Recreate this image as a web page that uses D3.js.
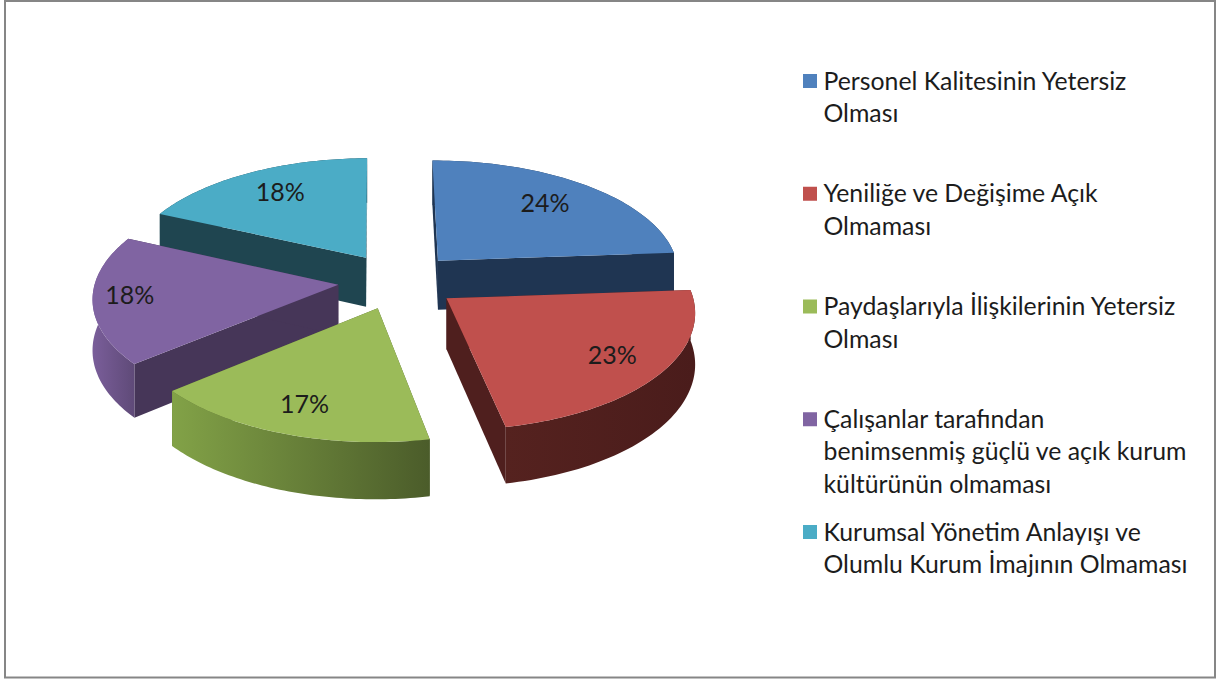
<!DOCTYPE html>
<html>
<head>
<meta charset="utf-8">
<script src="https://cdnjs.cloudflare.com/ajax/libs/d3/7.8.5/d3.min.js"></script>
<style>
    html, body { margin: 0; padding: 0; background: #fff; }
    svg { display: block; }
    text { font-family: Lato, Carlito, sans-serif; fill: #1c1c1c; }
</style>
</head>
<body>
<svg id="chart" width="1216" height="679"></svg>
<script>
var categories = [
    ['Personel Kalitesinin Yetersiz', 'Olması'],
    ['Yeniliğe ve Değişime Açık', 'Olmaması'],
    ['Paydaşlarıyla İlişkilerinin Yetersiz', 'Olması'],
    ['Çalışanlar tarafından', 'benimsenmiş güçlü ve açık kurum', 'kültürünün olmaması'],
    ['Kurumsal Yönetim Anlayışı ve', 'Olumlu Kurum İmajının Olmaması']
];
var values = [24, 23, 17, 18, 18];
var topColors = ['#4f81bd', '#c0504d', '#9bbb59', '#8064a2', '#4bacc6'];
var cutColors = ['#1f3552', '#4f1f1e', '#4d5e2c', '#463658', '#1f4550'];
var wallLight = ['#1f3552', '#55221f', '#82a247', '#7a5e9a', '#1f4550'];
var wallDark = ['#1f3552', '#4a1c1b', '#4b5c2a', '#5f4a78', '#1f4550'];
var labelRadius = [0.71, 0.79, 0.80, 0.85, 0.72];
var drawOrder = [4, 0, 3, 1, 2];

var svg = d3.select('#chart');
var defs = svg.append('defs');

// frame
svg.append('rect')
    .attr('x', 5).attr('y', 1)
    .attr('width', 1210).attr('height', 676.5)
    .attr('fill', '#fff')
    .attr('stroke', '#868686')
    .attr('stroke-width', 2);

// perspective projection of the pie plane
var cx = 398, cy = 281;
var radius = 243, explode = 60;
var tilt = 0.47, persp = 0.00042;
var depth = 50;
var rotation = -0.5 * Math.PI / 180;

function project(wx, wz, h) {
    var s = 1 / (1 + persp * wz);
    return [cx + wx * s, cy - wz * tilt * s + h * s];
}

var arcs = d3.pie().sort(null)
    .startAngle(rotation)
    .endAngle(rotation + 2 * Math.PI)
    .value(function (d) { return d; })(values);
var line = d3.line();

arcs.forEach(function (d) {
    var mid = (d.startAngle + d.endAngle) / 2;
    d.ax = explode * Math.sin(mid);
    d.az = explode * Math.cos(mid);
    d.rim = d3.range(0, 61).map(function (i) {
        var a = d.startAngle + (d.endAngle - d.startAngle) * i / 60;
        return [d.ax + radius * Math.sin(a), d.az + radius * Math.cos(a)];
    });
});

function at(h) {
    return function (p) { return project(p[0], p[1], h); };
}

drawOrder.forEach(function (i) {
    var d = arcs[i];
    var apex = [d.ax, d.az];
    var first = d.rim[0], last = d.rim[d.rim.length - 1];
    var g = svg.append('g');

    var xs = d.rim.map(at(depth)).map(function (p) { return p[0]; });
    var grad = defs.append('linearGradient')
        .attr('id', 'wall' + i)
        .attr('gradientUnits', 'userSpaceOnUse')
        .attr('x1', d3.min(xs)).attr('x2', d3.max(xs))
        .attr('y1', 0).attr('y2', 0);
    grad.append('stop').attr('offset', 0).attr('stop-color', wallLight[i]);
    grad.append('stop').attr('offset', 1).attr('stop-color', wallDark[i]);

    [first, last].forEach(function (p) {
        var quad = [apex, p].map(at(0)).concat([p, apex].map(at(depth)));
        g.append('path')
            .attr('d', line(quad) + 'Z')
            .attr('fill', cutColors[i]);
    });

    var wall = d.rim.map(at(0)).concat(d.rim.slice().reverse().map(at(depth)));
    g.append('path')
        .attr('d', line(wall) + 'Z')
        .attr('fill', 'url(#wall' + i + ')');

    var top = [apex].concat(d.rim).map(at(0));
    g.append('path')
        .attr('d', line(top) + 'Z')
        .attr('fill', topColors[i]);
});

// data labels
svg.append('g').selectAll('text')
    .data(arcs)
    .enter()
    .append('text')
    .attr('text-anchor', 'middle')
    .attr('dominant-baseline', 'central')
    .attr('font-size', 25)
    .attr('transform', function (d, i) {
        var mid = (d.startAngle + d.endAngle) / 2;
        var r = radius * labelRadius[i];
        var p = project(d.ax + r * Math.sin(mid), d.az + r * Math.cos(mid), 0);
        return 'translate(' + p[0] + ',' + (p[1] - 4) + ')';
    })
    .text(function (d) { return d.value + '%'; });

// legend
var legendY = d3.scalePoint()
    .domain(d3.range(categories.length))
    .range([80, 531]);
var lineHeight = 32.5;

var legend = svg.append('g').selectAll('g')
    .data(categories)
    .enter()
    .append('g')
    .attr('transform', function (d, i) { return 'translate(803,' + legendY(i) + ')'; });

legend.append('rect')
    .attr('x', 0).attr('y', -6)
    .attr('width', 14).attr('height', 14)
    .attr('fill', function (d, i) { return topColors[i]; });

legend.selectAll('text')
    .data(function (d) { return d; })
    .enter()
    .append('text')
    .attr('x', 20.5)
    .attr('y', function (d, i) { return i * lineHeight; })
    .attr('dominant-baseline', 'central')
    .attr('font-size', 24.8)
    .text(function (d) { return d; });
</script>
</body>
</html>
